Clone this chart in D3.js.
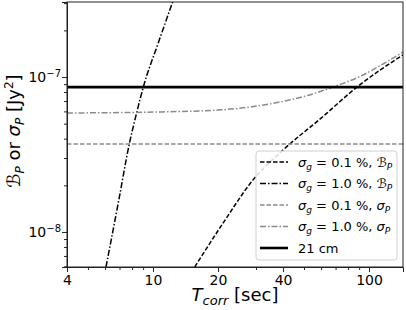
<!DOCTYPE html>
<html>
<head>
<meta charset="utf-8">
<script src="https://cdn.jsdelivr.net/npm/d3@7"></script>
<style>
  body { margin: 0; background: #fff; }
  text { font-family: "DejaVu Sans", sans-serif; }
</style>
</head>
<body>
<script>
// values (T in sec, power in Jy^2)
const tBp01 = [15.6, 21.1, 29.0, 40.0, 60.0, 87.9, 143.6];
const vBp01 = [5.94e-9, 1.14e-8, 2.16e-8, 3.38e-8, 5.43e-8, 8.61e-8, 1.39e-7];

const tBp10 = [6.06, 6.95, 7.77, 8.40, 9.02, 10.58, 12.42];
const vBp10 = [5.94e-9, 1.61e-8, 3.70e-8, 5.86e-8, 8.61e-8, 1.66e-7, 3.14e-7];

const tSig01 = [4, 143.6];
const vSig01 = [3.70e-8, 3.70e-8];

const tSig10 = [4, 10, 20, 28, 38.7, 53, 68, 91, 118, 143.6];
const vSig10 = [5.86e-8, 5.94e-8, 6.12e-8, 6.40e-8, 6.90e-8, 7.66e-8, 8.61e-8, 1.01e-7, 1.23e-7, 1.45e-7];

const t21 = [4, 143.6];
const v21 = [8.61e-8, 8.61e-8];

const xTicks = [4, 10, 20, 40, 100];
const xMinor = [5, 6, 7, 8, 9, 30, 50, 60, 70, 80, 90];
const yTicks = [1e-8, 1e-7];
const yMinor = [6e-9, 7e-9, 8e-9, 9e-9, 2e-8, 3e-8, 4e-8, 5e-8, 6e-8, 7e-8, 8e-8, 9e-8, 2e-7, 3e-7];

const series = [
  {t: tBp01, v: vBp01, color: "#000", dash: "4.5,2", w: 1.5, g: "0.1", q: "B"},
  {t: tBp10, v: vBp10, color: "#000", dash: "6,2,1.5,2", w: 1.5, g: "1.0", q: "B"},
  {t: tSig01, v: vSig01, color: "#8a8a8a", dash: "4.5,2", w: 1.5, g: "0.1", q: "s"},
  {t: tSig10, v: vSig10, color: "#8a8a8a", dash: "6,2,1.5,2", w: 1.5, g: "1.0", q: "s"},
  {t: t21, v: v21, color: "#000", dash: null, w: 2.6, label: "21 cm"}
];

const W = 406, H = 310;
const L = 67, R = 403, T = 2, B = 267;

const svg = d3.select("body").append("svg")
  .attr("width", W).attr("height", H);

const x = d3.scaleLog().domain([4, 143.6]).range([L, R]);
const y = d3.scaleLog().domain([5.94e-9, 3.05e-7]).range([B, T]);

svg.append("clipPath").attr("id", "clip")
  .append("rect").attr("x", L).attr("y", T).attr("width", R - L).attr("height", B - T);

const line = d3.line().x(d => x(d[0])).y(d => y(d[1])).curve(d3.curveMonotoneX);

const plot = svg.append("g").attr("clip-path", "url(#clip)");
series.forEach(s => {
  plot.append("path")
    .datum(s.t.map((t, i) => [t, s.v[i]]))
    .attr("d", line)
    .attr("fill", "none")
    .attr("stroke", s.color)
    .attr("stroke-width", s.w)
    .attr("stroke-dasharray", s.dash);
});

// axes
const xAxis = svg.append("g").attr("transform", `translate(0,${B})`)
  .call(d3.axisBottom(x).tickValues(xTicks).tickFormat(d3.format("d")).tickSize(5).tickPadding(3));
svg.append("g").attr("transform", `translate(0,${B})`)
  .call(d3.axisBottom(x).tickValues(xMinor).tickFormat("").tickSize(3))
  .select(".domain").remove();
xAxis.selectAll("text").attr("font-size", 14).attr("fill", "#000")
  .attr("font-family", "DejaVu Sans");

const yAxis = svg.append("g").attr("transform", `translate(${L},0)`)
  .call(d3.axisLeft(y).tickValues(yTicks).tickFormat(() => "").tickSize(5).tickPadding(3));
svg.append("g").attr("transform", `translate(${L},0)`)
  .call(d3.axisLeft(y).tickValues(yMinor).tickFormat("").tickSize(3))
  .select(".domain").remove();

yAxis.selectAll(".tick").append("text")
  .attr("x", -6).attr("dy", "0.35em")
  .attr("text-anchor", "end").attr("fill", "#000").attr("font-size", 14)
  .each(function(d) {
    const el = d3.select(this);
    el.append("tspan").text("10");
    el.append("tspan").attr("dy", "-0.55em").attr("font-size", 10)
      .text("\u2212" + Math.round(-Math.log10(d)));
  });

svg.selectAll(".domain").attr("stroke", "#222");
svg.selectAll(".tick line").attr("stroke", "#222");

// frame
svg.append("rect").attr("x", L).attr("y", T).attr("width", R - L).attr("height", B - T)
  .attr("fill", "none").attr("stroke", "#222").attr("stroke-width", 1);

// x label
const xl = svg.append("text").attr("x", (L + R) / 2).attr("y", 301)
  .attr("text-anchor", "middle").attr("font-size", 18).attr("fill", "#000");
xl.append("tspan").attr("font-style", "italic").text("T");
xl.append("tspan").attr("font-style", "italic").attr("font-size", 13).attr("dy", 4).text("corr");
xl.append("tspan").attr("dy", -4).text(" [sec]");

// y label
const yl = svg.append("text")
  .attr("transform", `translate(20,131) rotate(-90)`)
  .attr("text-anchor", "middle").attr("font-size", 18).attr("fill", "#000");
yl.append("tspan").text("\u212C");
yl.append("tspan").attr("font-style", "italic").attr("font-size", 12).attr("dy", 4).text("P");
yl.append("tspan").attr("dy", -4).text(" or ");
yl.append("tspan").attr("font-style", "italic").text("\u03C3");
yl.append("tspan").attr("font-style", "italic").attr("font-size", 12).attr("dy", 4).text("P");
yl.append("tspan").attr("dy", -4).text(" [Jy");
yl.append("tspan").attr("font-size", 12).attr("dy", -7).text("2");
yl.append("tspan").attr("dy", 7).text("]");

// legend
const lg = svg.append("g");
lg.append("rect").attr("x", 256).attr("y", 151).attr("width", 141).attr("height", 109)
  .attr("rx", 3).attr("fill", "#fff").attr("fill-opacity", 0.85)
  .attr("stroke", "#d0d0d0").attr("stroke-width", 1);

series.forEach((s, i) => {
  const cy = 162 + i * 21.5;
  lg.append("line").attr("x1", 260).attr("x2", 288).attr("y1", cy).attr("y2", cy)
    .attr("stroke", s.color).attr("stroke-width", s.w).attr("stroke-dasharray", s.dash);
  const tx = lg.append("text").attr("x", 298).attr("y", cy).attr("dy", "0.35em")
    .attr("font-size", 13).attr("fill", "#000");
  if (s.label) { tx.text(s.label); return; }
  tx.append("tspan").attr("font-style", "italic").text("\u03C3");
  tx.append("tspan").attr("font-style", "italic").attr("font-size", 9).attr("dy", 3).text("g");
  tx.append("tspan").attr("dy", -3).text(" = " + s.g + " %, ");
  if (s.q === "B") tx.append("tspan").text("\u212C");
  else tx.append("tspan").attr("font-style", "italic").text("\u03C3");
  tx.append("tspan").attr("font-style", "italic").attr("font-size", 9).attr("dy", 3).text("P");
});
</script>
</body>
</html>
